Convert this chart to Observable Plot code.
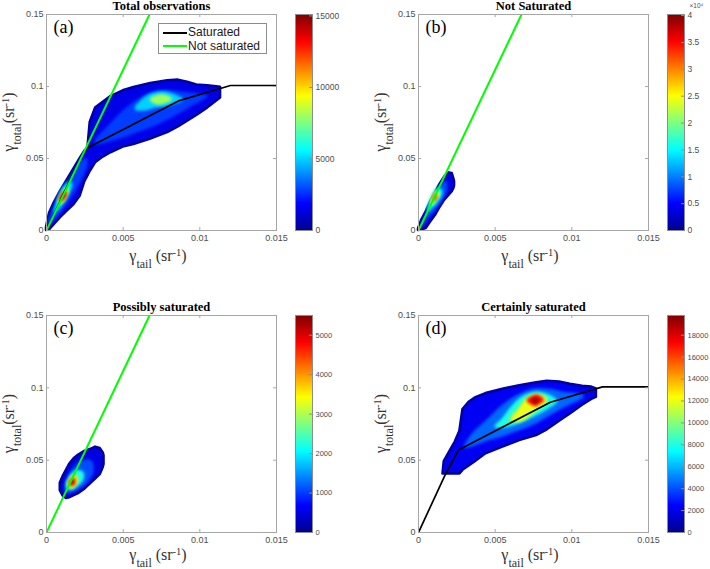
<!DOCTYPE html>
<html><head><meta charset="utf-8">
<script src="https://cdn.jsdelivr.net/npm/d3@7"></script>
<script src="https://cdn.jsdelivr.net/npm/@observablehq/plot@0.6"></script>
<style>
body{margin:0;background:#fff}
#root{position:relative;width:710px;height:569px;overflow:hidden;background:#fff}
#root > svg, #root > div.abs{position:absolute}
</style></head><body><div id="root"></div>
<script>
// ---------- data ----------
const xTicks = [0, 0.005, 0.01, 0.015];
const xTickLabels = ["0", "0.005", "0.01", "0.015"];
const yTicks = [0, 0.05, 0.1, 0.15];
const yTickLabels = ["0", "0.05", "0.1", "0.15"];
const panelTitles = ["Total observations", "Not Saturated", "Possibly saturated", "Certainly saturated"];
const panelLetters = ["(a)", "(b)", "(c)", "(d)"];
const colorMax = [15100, 40200, 5500, 19800];
const edgeValues = [300, 900, 120, 450];
const colorTicksA = [0, 5000, 10000, 15000];
const colorTicksB = [0, 5000, 10000, 15000, 20000, 25000, 30000, 35000, 40000];
const colorTicksC = [0, 1000, 2000, 3000, 4000, 5000];
const colorTicksD = [0, 2000, 4000, 6000, 8000, 10000, 12000, 14000, 16000, 18000];
const jetStops = [0, 0.125, 0.375, 0.625, 0.875, 1];
const jetColors = ["#00008f", "#0000ff", "#00ffff", "#ffff00", "#ff0000", "#800000"];
const legendLabels = ["Saturated", "Not saturated"];

// boundary lines [x, y]
const saturatedLine = [[0, 0], [0.0017, 0.039], [0.0026, 0.057], [0.0086, 0.09], [0.012, 0.1007], [0.015, 0.1007]];
const notSaturatedLine = [[0, 0], [0.00672, 0.15]];

// density regions: v = count level, pts = [x, yLow, yHigh]
const densityA = [
  {v: 1500, edge: true, pts: [[0,0,0.002],[0.0002,0.0005,0.012],[0.0005,0.004,0.019],[0.0009,0.0088,0.027],[0.00135,0.0135,0.035],[0.0018,0.018,0.043],[0.0022,0.024,0.05],[0.0025,0.034,0.055],[0.0027,0.038,0.057],[0.00285,0.041,0.075],[0.0032,0.047,0.085],[0.0037,0.051,0.089],[0.0042,0.054,0.093],[0.005,0.058,0.097],[0.0057,0.0598,0.0993],[0.0068,0.0635,0.102],[0.0079,0.068,0.104],[0.0086,0.072,0.1044],[0.0092,0.076,0.103],[0.0098,0.08,0.101],[0.0105,0.085,0.1005],[0.0111,0.09,0.0998],[0.01135,0.092,0.0995]]},
  {v: 2800, pts: [[0.0001,0.003,0.006],[0.0004,0.005,0.014],[0.0008,0.01,0.022],[0.0012,0.016,0.03],[0.0016,0.022,0.037],[0.002,0.029,0.044],[0.0024,0.037,0.049],[0.0027,0.045,0.05]]},
  {v: 2800, pts: [[0.0032,0.059,0.063],[0.004,0.061,0.072],[0.005,0.064,0.083],[0.006,0.068,0.091],[0.007,0.072,0.096],[0.008,0.077,0.097],[0.009,0.083,0.096],[0.0098,0.088,0.095],[0.0105,0.092,0.094]]},
  {v: 5500, pts: [[0.0005,0.011,0.013],[0.0008,0.014,0.024],[0.0011,0.018,0.03],[0.0014,0.023,0.033],[0.0017,0.03,0.034]]},
  {v: 5000, pts: [[0.0058,0.083,0.086],[0.0065,0.083,0.093],[0.0072,0.085,0.096],[0.0079,0.086,0.096],[0.0085,0.088,0.094],[0.0089,0.09,0.092]]},
  {v: 9000, pts: [[0.0008,0.018,0.021],[0.0011,0.019,0.027],[0.0014,0.024,0.029],[0.0015,0.027,0.028]]},
  {v: 8000, pts: [[0.0068,0.089,0.092],[0.0073,0.087,0.094],[0.0078,0.088,0.094],[0.0082,0.09,0.092]]},
  {v: 13500, pts: [[0.00085,0.0195,0.022],[0.0011,0.0205,0.0265],[0.00135,0.0235,0.0275]]}
];
const densityB = [
  {v: 3500, edge: true, pts: [[0,0,0.001],[0.0002,0.0003,0.0068],[0.0005,0.0014,0.013],[0.0008,0.006,0.02],[0.0011,0.0104,0.026],[0.0014,0.016,0.032],[0.0017,0.021,0.037],[0.002,0.0245,0.04],[0.0022,0.027,0.0395],[0.0023,0.029,0.036],[0.00235,0.031,0.034]]},
  {v: 8000, pts: [[0.0002,0.002,0.004],[0.0005,0.006,0.012],[0.0008,0.01,0.02],[0.0012,0.015,0.028],[0.0016,0.021,0.033],[0.0019,0.027,0.034]]},
  {v: 15000, pts: [[0.0006,0.012,0.016],[0.0009,0.015,0.024],[0.0012,0.018,0.029],[0.0015,0.023,0.029],[0.0016,0.026,0.027]]},
  {v: 25000, pts: [[0.0008,0.017,0.02],[0.001,0.018,0.025],[0.0012,0.021,0.027],[0.0014,0.024,0.026]]},
  {v: 33000, pts: [[0.00095,0.0205,0.022],[0.0011,0.02,0.025],[0.00125,0.023,0.025]]}
];
const densityC = [
  {v: 500, edge: true, pts: [[0.0009,0.029,0.034],[0.0011,0.025,0.039],[0.0013,0.0235,0.043],[0.0015,0.024,0.047],[0.0018,0.0256,0.051],[0.0021,0.027,0.0535],[0.0025,0.03,0.056],[0.0029,0.034,0.0575],[0.0032,0.037,0.059],[0.0035,0.04,0.058],[0.0037,0.045,0.055],[0.00375,0.047,0.053]]},
  {v: 1100, pts: [[0.0012,0.028,0.033],[0.0016,0.027,0.042],[0.002,0.029,0.047],[0.0025,0.032,0.05],[0.0029,0.037,0.05],[0.0031,0.041,0.047]]},
  {v: 2200, pts: [[0.0013,0.03,0.034],[0.0016,0.029,0.04],[0.002,0.031,0.043],[0.0024,0.035,0.042],[0.0025,0.038,0.04]]},
  {v: 3600, pts: [[0.0014,0.032,0.035],[0.0017,0.03,0.039],[0.002,0.033,0.039],[0.0021,0.035,0.037]]},
  {v: 5000, pts: [[0.0015,0.0325,0.035],[0.0017,0.032,0.037],[0.0019,0.033,0.037]]}
];
const densityD = [
  {v: 2200, edge: true, pts: [[0.0016,0.0405,0.0405],[0.00168,0.0405,0.049],[0.0021,0.0405,0.057],[0.0024,0.0405,0.0625],[0.0027,0.0405,0.07],[0.0029,0.043,0.085],[0.0033,0.046,0.09],[0.0037,0.049,0.093],[0.0044,0.0544,0.096],[0.0055,0.059,0.099],[0.0066,0.0636,0.1015],[0.0077,0.067,0.1035],[0.0084,0.071,0.1046],[0.0092,0.077,0.104],[0.0099,0.082,0.1025],[0.0107,0.088,0.101],[0.0113,0.092,0.1005],[0.0116,0.0935,0.0993]]},
  {v: 4500, pts: [[0.003,0.058,0.06],[0.0035,0.059,0.068],[0.0045,0.063,0.078],[0.0055,0.066,0.088],[0.0065,0.07,0.095],[0.0075,0.074,0.099],[0.0085,0.08,0.099],[0.0095,0.086,0.097],[0.0103,0.09,0.096],[0.0108,0.093,0.095]]},
  {v: 8000, pts: [[0.005,0.072,0.074],[0.0055,0.072,0.079],[0.006,0.073,0.086],[0.0068,0.076,0.094],[0.0076,0.08,0.097],[0.0083,0.084,0.096],[0.0089,0.088,0.093],[0.0091,0.09,0.091]]},
  {v: 12000, pts: [[0.006,0.077,0.079],[0.0065,0.076,0.085],[0.007,0.078,0.092],[0.0075,0.082,0.095],[0.008,0.086,0.095],[0.0084,0.089,0.093]]},
  {v: 17000, pts: [[0.0071,0.09,0.092],[0.0074,0.088,0.094],[0.0077,0.087,0.095],[0.008,0.089,0.094],[0.0082,0.09,0.092]]},
  {v: 19000, pts: [[0.0074,0.0895,0.092],[0.0077,0.089,0.093],[0.0079,0.09,0.092]]}
];

// ---------- drawing ----------
const SERIF = "'Liberation Serif', 'Times New Roman', serif";
const SANS = "'Liberation Sans', Arial, sans-serif";
const root = document.getElementById("root");
const ML = 46, MR = 24, MT = 14, MB = 50, FW = 230;

function jetScale(cmax) {
  return {type: "linear", domain: jetStops.map(t => t * cmax), range: jetColors, interpolate: "rgb"};
}

function makePanel(i, left, top, fh, density, showSat, showNot, labelGap) {
  const cmax = colorMax[i];
  const marks = [];
  for (const blob of density) {
    marks.push(Plot.areaY(blob.pts, {
      x: d => d[0], y1: d => d[1], y2: d => d[2],
      fill: () => blob.v,
      stroke: blob.edge ? () => edgeValues[i] : "none",
      strokeWidth: blob.edge ? 2.6 : 0,
      strokeLinejoin: "round",
      curve: blob.edge ? "linear" : "catmull-rom"
    }));
  }
  if (showSat) marks.push(Plot.line(saturatedLine, {x: d => d[0], y: d => d[1], stroke: "#000", strokeWidth: 1.7, clip: true}));
  if (showNot) marks.push(Plot.line(notSaturatedLine, {x: d => d[0], y: d => d[1], stroke: "#00ff00", strokeWidth: 2, clip: true}));
  marks.push(
    Plot.frame({stroke: "#a6a6a6"}),
    Plot.tickX(xTicks, {x: d => d, insetTop: fh - 3, stroke: "#a6a6a6"}),
    Plot.tickX(xTicks, {x: d => d, insetBottom: fh - 3, stroke: "#a6a6a6"}),
    Plot.tickY(yTicks, {y: d => d, insetRight: FW - 3, stroke: "#a6a6a6"}),
    Plot.tickY(yTicks, {y: d => d, insetLeft: FW - 3, stroke: "#a6a6a6"}),
    Plot.axisX(xTicks, {tickSize: 0, tickPadding: 4, label: null, fontSize: 9, fontFamily: SANS, fill: "#4d4d4d", tickFormat: d => xTickLabels[xTicks.indexOf(d)]}),
    Plot.axisY(yTicks, {tickSize: 0, tickPadding: 3, label: null, fontSize: 9, fontFamily: SANS, fill: "#4d4d4d", tickFormat: d => yTickLabels[yTicks.indexOf(d)]}),
    Plot.text([panelTitles[i]], {text: d => d, frameAnchor: "top", dy: -9, lineAnchor: "middle", fontFamily: SERIF, fontWeight: "bold", fontSize: 12.5, fill: "#000"}),
    Plot.text([panelLetters[i]], {text: d => d, frameAnchor: "top-left", dx: 7, dy: 13, textAnchor: "start", lineAnchor: "middle", fontFamily: SERIF, fontSize: 18, fill: "#000"})
  );
  const svg = Plot.plot({
    width: ML + FW + MR, height: MT + fh + MB,
    marginLeft: ML, marginRight: MR, marginTop: MT, marginBottom: MB,
    x: {domain: [0, 0.015]}, y: {domain: [0, 0.15]},
    color: jetScale(cmax),
    style: {background: "transparent", overflow: "visible", fontFamily: SANS},
    marks
  });
  const s = d3.select(svg);
  const fid = "blur" + i;
  s.insert("defs", ":first-child").append("filter").attr("id", fid)
    .attr("x", "-30%").attr("y", "-30%").attr("width", "160%").attr("height", "160%")
    .append("feGaussianBlur").attr("stdDeviation", 1.6);
  // soften the inner density levels (all area layers except the outer envelope)
  s.selectAll('g[aria-label="area"]').filter((d, k) => k > 0).attr("filter", `url(#${fid})`);
  // x label
  const xl = s.append("text").attr("x", ML + FW / 2 - 3).attr("y", MT + fh + labelGap)
    .attr("text-anchor", "middle").attr("font-family", SERIF).attr("font-size", 16).attr("fill", "#333");
  xl.append("tspan").text("γ");
  xl.append("tspan").attr("baseline-shift", "sub").attr("font-size", 12).text("tail");
  xl.append("tspan").text(" (sr");
  xl.append("tspan").attr("baseline-shift", "super").attr("font-size", 10.5).text("-1");
  xl.append("tspan").text(")");
  // y label
  const yl = s.append("text").attr("transform", `translate(${ML - 32},${MT + fh / 2}) rotate(-90)`)
    .attr("text-anchor", "middle").attr("font-family", SERIF).attr("font-size", 16).attr("fill", "#333");
  yl.append("tspan").text("γ");
  yl.append("tspan").attr("baseline-shift", "sub").attr("font-size", 12).text("total");
  yl.append("tspan").text("(sr");
  yl.append("tspan").attr("baseline-shift", "super").attr("font-size", 10.5).text("-1");
  yl.append("tspan").text(")");
  svg.style.left = left + "px";
  svg.style.top = top + "px";
  root.appendChild(svg);
}

function makeColorbar(i, left, top, fh, ticks, fmt, fontSize, exponent) {
  const cmax = colorMax[i];
  const marks = [
    Plot.raster({x1: 0, x2: 1, y1: 0, y2: cmax, fill: (x, y) => y, pixelSize: 1}),
    Plot.frame({stroke: "#8c8c8c"}),
    Plot.tickY(ticks, {y: d => d, insetLeft: 14, stroke: "#8c8c8c"}),
    Plot.axisY(ticks, {anchor: "right", tickSize: 0, tickPadding: 3, label: null, fontSize, fontFamily: SANS, fill: "#4d4d4d", tickFormat: fmt})
  ];
  if (exponent) marks.push(Plot.text([exponent], {text: d => d, frameAnchor: "top-right", dx: 5, dy: -9, textAnchor: "start", lineAnchor: "middle", fontSize: 6.5, fontFamily: SANS, fill: "#4d4d4d"}));
  const svg = Plot.plot({
    width: 60, height: MT + fh + MB,
    marginLeft: 5, marginRight: 38, marginTop: MT, marginBottom: MB,
    x: {domain: [0, 1], axis: null}, y: {domain: [0, cmax]},
    color: jetScale(cmax),
    style: {background: "transparent", overflow: "visible", fontFamily: SANS},
    marks
  });
  svg.style.left = left + "px";
  svg.style.top = top + "px";
  root.appendChild(svg);
}

makePanel(0, 0, 0, 216, densityA, true, true, 31);
makePanel(1, 372, 0, 216, densityB, false, true, 31);
makePanel(2, 0, 301, 217, densityC, false, true, 28);
makePanel(3, 372, 301, 217, densityD, true, false, 28);

makeColorbar(0, 290, 0, 216, colorTicksA, d => String(d), 8.5);
makeColorbar(1, 662, 0, 216, colorTicksB, d => String(d / 10000), 8.5, "×10⁴");
makeColorbar(2, 290, 301, 217, colorTicksC, d => String(d), 7.5);
makeColorbar(3, 662, 301, 217, colorTicksD, d => String(d), 7.5);

// legend of panel (a)
const lg = document.createElement("div");
lg.className = "abs";
lg.style.cssText = "left:158px;top:23px;width:107px;height:29px;border:1px solid #8c8c8c;background:#fff;font:12px " + SANS + ";color:#1a1a1a;";
const legendColors = ["#000", "#00ff00"];
legendLabels.forEach((lab, k) => {
  const sw = document.createElement("div");
  sw.style.cssText = `position:absolute;left:4px;top:${8 + 13 * k}px;width:24px;height:2px;background:${legendColors[k]}`;
  const tx = document.createElement("div");
  tx.style.cssText = `position:absolute;left:29px;top:${1 + 13.5 * k}px;line-height:14px;white-space:nowrap`;
  tx.textContent = lab;
  lg.appendChild(sw); lg.appendChild(tx);
});
root.appendChild(lg);
</script></body></html>
